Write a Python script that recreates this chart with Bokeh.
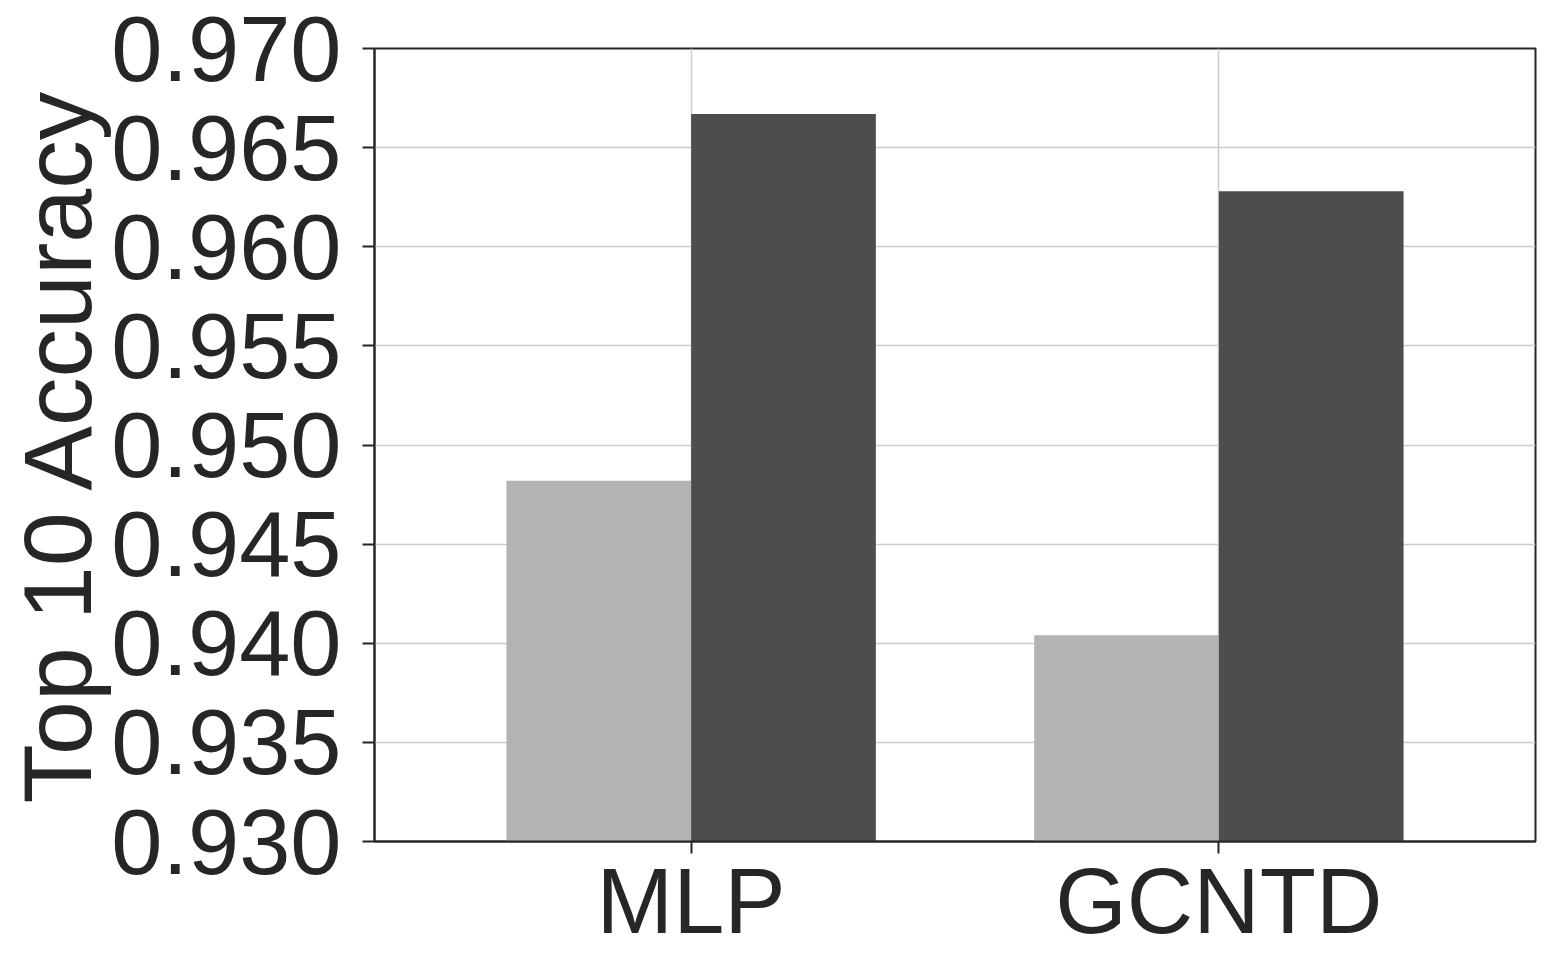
from bokeh.plotting import figure
from bokeh.models import Range1d, FixedTicker, ColumnDataSource
from bokeh.transform import dodge
from bokeh.embed import file_html
from bokeh.resources import INLINE

categories = ["MLP", "GCNTD"]
series_a = [0.9482, 0.9404]   # light bars
series_b = [0.9667, 0.9628]   # dark bars
y_ticks = [0.930, 0.935, 0.940, 0.945, 0.950, 0.955, 0.960, 0.965, 0.970]
y_label = "Top 10 Accuracy"

xs = list(range(len(categories)))
src = ColumnDataSource(dict(x=xs, a=series_a, b=series_b))

FONT = "Liberation Sans"
TXT = "#262626"

p = figure(width=1548, height=962, output_backend="svg", toolbar_location=None,
           x_range=Range1d(-0.6, 1.6), y_range=Range1d(0.930, 0.970),
           min_border_left=374, min_border_right=13, min_border_top=48, min_border_bottom=121)
p.outline_line_color = TXT
p.outline_line_width = 2

bw = 0.35
p.vbar(x=dodge("x", -bw / 2), top="a", bottom=0.930, width=bw, source=src,
       fill_color="#b3b3b3", line_color=None)
p.vbar(x=dodge("x", bw / 2), top="b", bottom=0.930, width=bw, source=src,
       fill_color="#4d4d4d", line_color=None)

p.xaxis.ticker = FixedTicker(ticks=xs)
p.xaxis.major_label_overrides = {i: c for i, c in zip(xs, categories)}
p.yaxis.ticker = FixedTicker(ticks=y_ticks)
p.yaxis.major_label_overrides = {t: f"{t:.3f}" for t in y_ticks}

for ax in (p.xaxis, p.yaxis):
    ax.axis_line_color = TXT
    ax.axis_line_width = 2
    ax.major_tick_line_color = TXT
    ax.major_tick_line_width = 2
    ax.major_tick_out = 12
    ax.major_tick_in = 0
    ax.minor_tick_line_color = None
    ax.major_label_text_font = FONT
    ax.major_label_text_font_size = "92px"
    ax.major_label_text_color = TXT

p.yaxis.major_label_standoff = 21
p.xaxis.major_label_standoff = -4
p.yaxis.axis_label = y_label
p.yaxis.axis_label_text_font = FONT
p.yaxis.axis_label_text_font_size = "97px"
p.yaxis.axis_label_text_font_style = "normal"
p.yaxis.axis_label_text_color = TXT
p.yaxis.axis_label_text_baseline = "alphabetic"
p.yaxis.axis_label_standoff = -4

p.xgrid.grid_line_color = "#cccccc"
p.ygrid.grid_line_color = "#cccccc"
p.xgrid.grid_line_width = 1.5
p.ygrid.grid_line_width = 1.5
p.xgrid.ticker = FixedTicker(ticks=xs)
p.ygrid.ticker = FixedTicker(ticks=y_ticks)

open("out.html", "w").write(file_html(p, INLINE))
